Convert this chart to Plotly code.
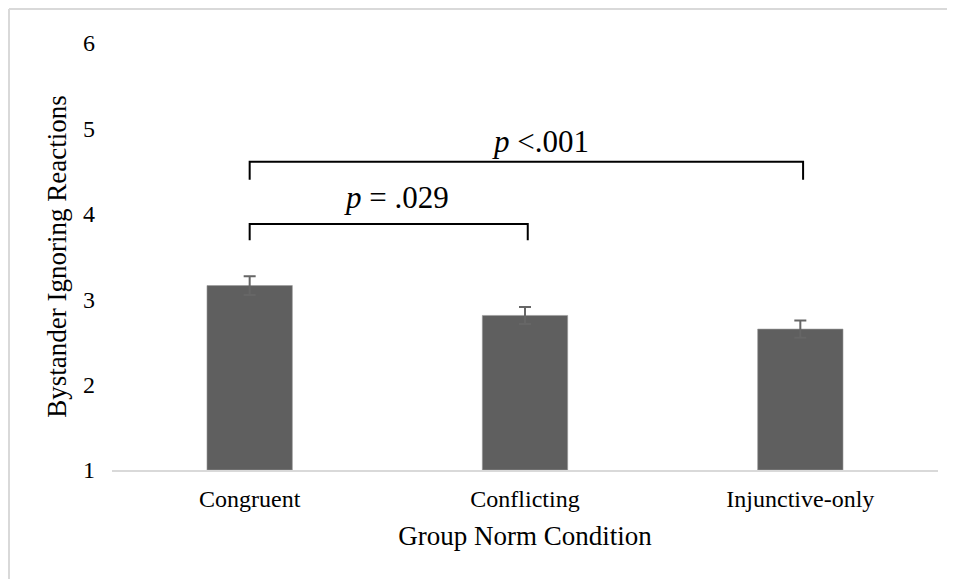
import plotly.graph_objects as go

categories = ["Congruent", "Conflicting", "Injunctive-only"]
means = [3.16, 2.81, 2.65]
errors = [0.11, 0.10, 0.10]
y_ticks = [1, 2, 3, 4, 5, 6]

comparisons = [
    {"from": 0, "to": 1, "label": "<i>p</i> = .029"},
    {"from": 0, "to": 2, "label": "<i>p</i> &lt;.001"},
]

FONT = "Liberation Serif"

fig = go.Figure()
fig.add_trace(go.Bar(
    x=categories, y=[m - 1 for m in means], base=1,
    marker=dict(color="#5f5f5f", line=dict(color="#9a9a9a", width=0.6)),
    width=0.31,
    error_y=dict(type="data", array=errors, color="#666666", thickness=2, width=6),
    hoverinfo="skip",
))

# bracket geometry (data units) and label offsets (px)
bracket_levels = [(3.88, 3.69, 7, 8), (4.61, 4.40, 1, 14)]
for comp, (ytop, ybot, ys, xs) in zip(comparisons, bracket_levels):
    x0 = comp["from"] + 0.0
    x1 = comp["to"] + 0.01
    fig.add_shape(type="path", xref="x", yref="y",
                  path=f"M {x0},{ybot} L {x0},{ytop} L {x1},{ytop} L {x1},{ybot}",
                  line=dict(color="black", width=2))
    fig.add_annotation(x=(x0 + x1) / 2, y=ytop, xref="x", yref="y",
                       text=comp["label"], showarrow=False, yanchor="bottom",
                       yshift=ys, xshift=xs, font=dict(family=FONT, size=31, color="black"))

L, R, T, B, W, H = 104, 17, 35, 109, 947, 571
PW, PH = W - L - R, H - T - B
# outer frame: top and left edges of the figure
fx = (1 - L) / PW
fy = (PH + T - 1) / PH
fig.add_shape(type="line", xref="paper", yref="paper", x0=fx, x1=1.5, y0=fy, y1=fy,
              line=dict(color="#d9d9d9", width=2), layer="below")
fig.add_shape(type="line", xref="paper", yref="paper", x0=fx, x1=fx, y0=-0.5, y1=fy,
              line=dict(color="#d9d9d9", width=2), layer="below")

fig.update_layout(
    width=W, height=H,
    margin=dict(l=L, r=R, t=T, b=B),
    paper_bgcolor="white", plot_bgcolor="white",
    showlegend=False,
    font=dict(family=FONT, size=24, color="black"),
)
fig.update_xaxes(
    showline=True, linecolor="#d9d9d9", linewidth=1.5,
    ticks="", showgrid=False, zeroline=False, ticklabelstandoff=6,
    tickfont=dict(family=FONT, size=24, color="black"),
    title=dict(text="Group Norm Condition", font=dict(family=FONT, size=27, color="black"), standoff=16),
)
fig.update_yaxes(
    range=[1, 6], tickvals=y_ticks, showline=False, showgrid=False, zeroline=False,
    ticks="", ticklabelstandoff=16,
    tickfont=dict(family=FONT, size=24, color="black"),
    title=dict(text="Bystander Ignoring Reactions", font=dict(family=FONT, size=27, color="black"), standoff=8),
)

fig.write_html("out.html")
